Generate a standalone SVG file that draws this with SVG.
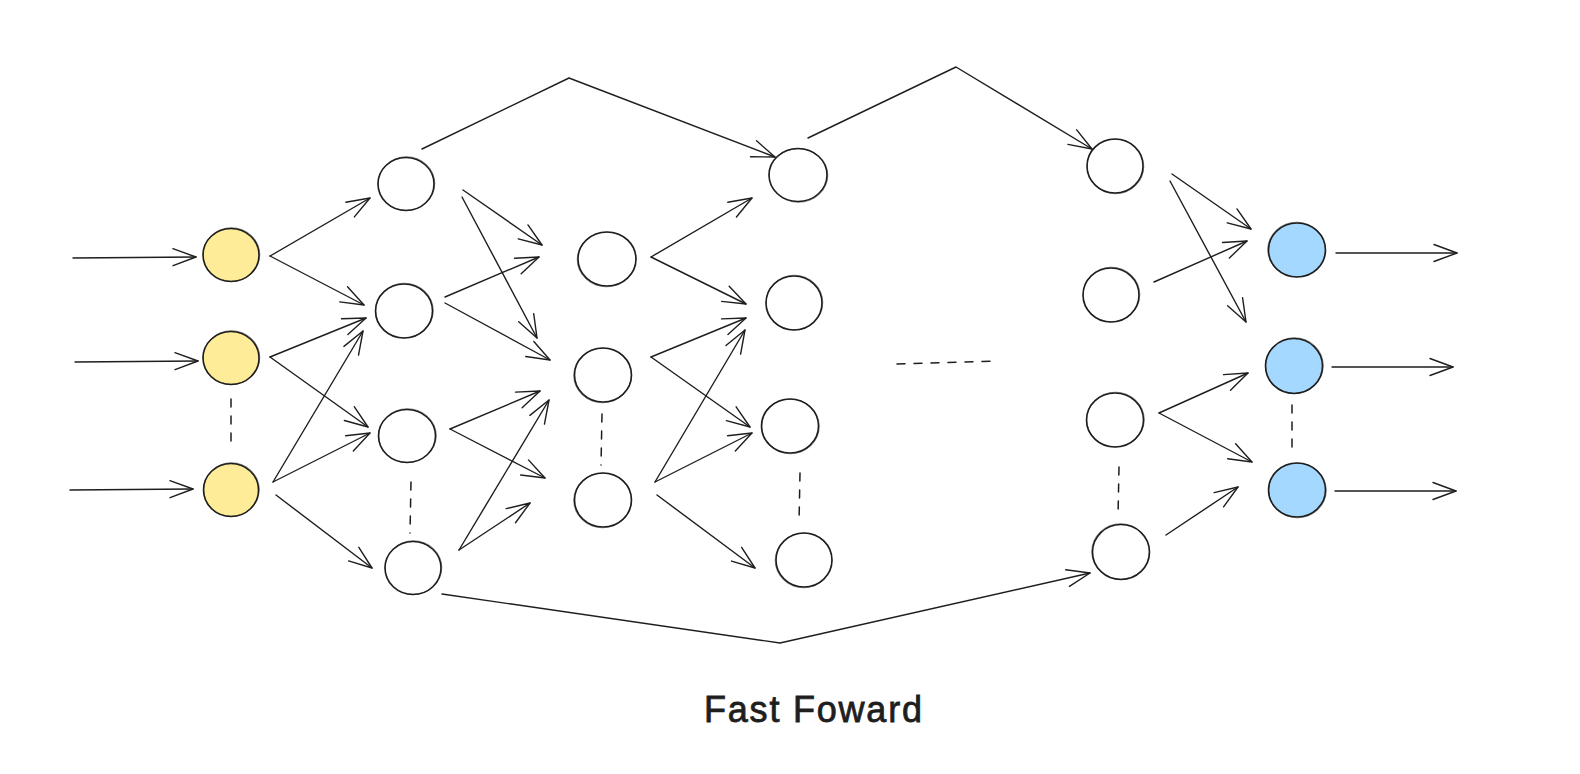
<svg xmlns="http://www.w3.org/2000/svg" width="1580" height="774" viewBox="0 0 1580 774">
<defs>
<marker id="ah" viewBox="-25 -11 28 22" refX="0" refY="0" markerWidth="28" markerHeight="22" markerUnits="userSpaceOnUse" orient="auto">
<path d="M -23 -8.5 L 0 0 L -23 8.5" fill="none" stroke="#1e1e1e" stroke-width="1.4" stroke-linecap="round" stroke-linejoin="round"/>
</marker>
<style>
.node{stroke:#1e1e1e;stroke-width:1.6;fill:#ffffff}
.in{fill:#ffec99}
.out{fill:#a5d8ff}
.ring{fill:none;stroke:#1e1e1e;stroke-width:0.7;opacity:0.7}
.arr{fill:none;stroke:#1e1e1e;stroke-width:1.4;stroke-linecap:round;stroke-linejoin:round;marker-end:url(#ah)}
.dash{fill:none;stroke:#1e1e1e;stroke-width:1.5;stroke-dasharray:8 9;stroke-linecap:round}
.label{font-family:"Liberation Sans",Arial,sans-serif;font-size:36px;fill:#1e1e1e;stroke:#1e1e1e;stroke-width:0.8}
</style>
</defs>
<rect width="1580" height="774" fill="#ffffff"/>

<g id="connectors">
<!-- inputs -->
<path class="arr" d="M73 258 L196 257"/>
<path class="arr" d="M75 362 L198 361"/>
<path class="arr" d="M70 490 L193 489"/>
<!-- input -> H1 -->
<path class="arr" d="M270 256 L370 198"/>
<path class="arr" d="M270 256 L364 305"/>
<path class="arr" d="M270 357 L366 318"/>
<path class="arr" d="M270 357 L368 427"/>
<path class="arr" d="M273 482 L363 331"/>
<path class="arr" d="M273 482 L370 433"/>
<path class="arr" d="M276 495 L372 568"/>
<!-- H1 -> H2 -->
<path class="arr" d="M463 190 L542 245"/>
<path class="arr" d="M462 197 L537 338"/>
<path class="arr" d="M445 297 L539 257"/>
<path class="arr" d="M445 303 L550 360"/>
<path class="arr" d="M450 429 L540 391"/>
<path class="arr" d="M450 429 L545 478"/>
<path class="arr" d="M459 550 L549 400"/>
<path class="arr" d="M459 550 L530 503"/>
<!-- H2 -> H3 -->
<path class="arr" d="M651 257 L752 198"/>
<path class="arr" d="M651 257 L746 304"/>
<path class="arr" d="M651 357 L746 318"/>
<path class="arr" d="M651 357 L750 427"/>
<path class="arr" d="M655 482 L745 330"/>
<path class="arr" d="M655 482 L752 433"/>
<path class="arr" d="M657 495 L755 568"/>
<!-- skip connections -->
<path class="arr" d="M422 149 L569 78 L775 157"/>
<path class="arr" d="M808 138 L956 67 L1092 149"/>
<path class="arr" d="M442 594 L780 643 L1090 573"/>
<!-- last hidden -> output -->
<path class="arr" d="M1172 174 L1251 229"/>
<path class="arr" d="M1170 181 L1246 322"/>
<path class="arr" d="M1154 282 L1247 241"/>
<path class="arr" d="M1159 413 L1248 373"/>
<path class="arr" d="M1159 413 L1252 462"/>
<path class="arr" d="M1166 535 L1238 487"/>
<!-- outputs -->
<path class="arr" d="M1336 253 L1457 253"/>
<path class="arr" d="M1332 367 L1453 367"/>
<path class="arr" d="M1335 491 L1456 491"/>
<!-- ellipsis dashes -->
<path class="dash" d="M231 399 L231 450"/>
<path class="dash" d="M411 482 L410 533"/>
<path class="dash" d="M602 414 L601 465"/>
<path class="dash" d="M800 473 L799 523"/>
<path class="dash" d="M1119 467 L1118 517"/>
<path class="dash" d="M1292 405 L1292 455"/>
<path class="dash" d="M897 364 L998 361"/>
</g>

<g id="in1"><ellipse class="node in" cx="231" cy="255" rx="28" ry="26.5"/><ellipse class="ring" cx="231.5" cy="254.5" rx="28.3" ry="26.8"/></g>
<g id="in2"><ellipse class="node in" cx="231" cy="358" rx="28" ry="26.5"/><ellipse class="ring" cx="231.5" cy="357.5" rx="28.3" ry="26.8"/></g>
<g id="in3"><ellipse class="node in" cx="231" cy="490" rx="27.5" ry="26.5"/><ellipse class="ring" cx="231.5" cy="489.5" rx="27.8" ry="26.8"/></g>

<g id="h1a"><ellipse class="node" cx="406" cy="184" rx="28" ry="26.5"/><ellipse class="ring" cx="406.5" cy="183.5" rx="28.3" ry="26.8"/></g>
<g id="h1b"><ellipse class="node" cx="404" cy="311" rx="28.5" ry="27"/><ellipse class="ring" cx="404.5" cy="310.5" rx="28.8" ry="27.3"/></g>
<g id="h1c"><ellipse class="node" cx="407" cy="436" rx="28.5" ry="26.5"/><ellipse class="ring" cx="407.5" cy="435.5" rx="28.8" ry="26.8"/></g>
<g id="h1d"><ellipse class="node" cx="413" cy="568" rx="28" ry="26.5"/><ellipse class="ring" cx="413.5" cy="567.5" rx="28.3" ry="26.8"/></g>

<g id="h2a"><ellipse class="node" cx="607" cy="259" rx="29" ry="27"/><ellipse class="ring" cx="606.5" cy="259.5" rx="29.3" ry="27.3"/></g>
<g id="h2b"><ellipse class="node" cx="603" cy="375" rx="28.5" ry="27"/><ellipse class="ring" cx="602.5" cy="375.5" rx="28.8" ry="27.3"/></g>
<g id="h2c"><ellipse class="node" cx="603" cy="500" rx="28.5" ry="27"/><ellipse class="ring" cx="602.5" cy="500.5" rx="28.8" ry="27.3"/></g>

<g id="h3a"><ellipse class="node" cx="798" cy="175" rx="29" ry="26.5"/><ellipse class="ring" cx="798.5" cy="175.5" rx="29.3" ry="26.8"/></g>
<g id="h3b"><ellipse class="node" cx="794" cy="303" rx="28" ry="27"/><ellipse class="ring" cx="794.5" cy="302.5" rx="28.3" ry="27.3"/></g>
<g id="h3c"><ellipse class="node" cx="790" cy="426" rx="28.5" ry="27"/><ellipse class="ring" cx="790.5" cy="426.5" rx="28.8" ry="27.3"/></g>
<g id="h3d"><ellipse class="node" cx="804" cy="560" rx="28" ry="27"/><ellipse class="ring" cx="803.5" cy="560.5" rx="28.3" ry="27.3"/></g>

<g id="l1"><ellipse class="node" cx="1115" cy="166" rx="28" ry="27"/><ellipse class="ring" cx="1115.5" cy="166.5" rx="28.3" ry="27.3"/></g>
<g id="l2"><ellipse class="node" cx="1111" cy="295" rx="28" ry="27"/><ellipse class="ring" cx="1111.5" cy="294.5" rx="28.3" ry="27.3"/></g>
<g id="l3"><ellipse class="node" cx="1115" cy="420" rx="28.5" ry="27"/><ellipse class="ring" cx="1115.5" cy="419.5" rx="28.8" ry="27.3"/></g>
<g id="l4"><ellipse class="node" cx="1121" cy="552" rx="28.5" ry="27.5"/><ellipse class="ring" cx="1120.5" cy="551.5" rx="28.8" ry="27.8"/></g>

<g id="out1"><ellipse class="node out" cx="1297" cy="250" rx="28.5" ry="27"/><ellipse class="ring" cx="1296.5" cy="249.5" rx="28.8" ry="27.3"/></g>
<g id="out2"><ellipse class="node out" cx="1294" cy="366" rx="28.5" ry="27.5"/><ellipse class="ring" cx="1294.5" cy="365.5" rx="28.8" ry="27.8"/></g>
<g id="out3"><ellipse class="node out" cx="1297" cy="490" rx="28.5" ry="27"/><ellipse class="ring" cx="1297.5" cy="490.5" rx="28.8" ry="27.3"/></g>

<g id="title"><text class="label" x="704" y="722" textLength="218" lengthAdjust="spacing">Fast Foward</text></g>
</svg>
